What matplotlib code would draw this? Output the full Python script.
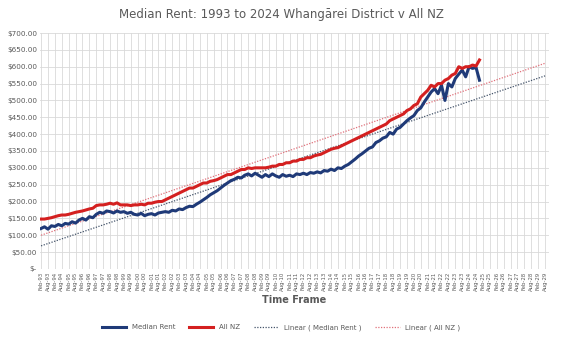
import numpy as np
import matplotlib.pyplot as plt

# quarterly readings (Feb, May, Aug, Nov) from Feb-93
whangarei = [
    120, 125, 118, 128,  126, 132, 128, 135,  133, 140, 136, 145,
    150, 145, 155, 152,  162, 168, 165, 172,  170, 166, 172, 168,
    170, 165, 168, 162,  160, 165, 158, 162,  164, 160, 166, 168,
    170, 168, 174, 172,  178, 176, 182, 186,  185, 192, 198, 205,
    212, 220, 226, 232,  240, 248, 255, 262,  266, 272, 270, 278,
    282, 276, 284, 278,  272, 280, 274, 282,  276, 272, 280, 275,
    278, 274, 282, 280,  284, 280, 286, 284,  288, 285, 292, 290,
    296, 292, 300, 298,  305, 310, 318, 326,  335, 342, 350, 358,
    362, 375, 380, 388,  392, 405, 400, 415,  420, 430, 440, 448,
    455, 470, 478, 495,  510, 525, 535, 520,  545, 500, 550, 540,
    565, 578, 590, 570,  600, 595, 598, 560,
]
all_nz = [
    148, 148, 150, 152,  155, 158, 160, 160,  162, 165, 168, 170,
    172, 175, 178, 180,  188, 190, 190, 192,  195, 192, 196, 190,
    190, 190, 188, 190,  190, 192, 190, 195,  195, 198, 200, 200,
    205, 210, 215, 220,  225, 230, 235, 240,  240, 245, 250, 255,
    255, 260, 262, 265,  270, 275, 280, 280,  285, 290, 295, 295,
    300, 298, 300, 300,  300, 300, 302, 305,  305, 310, 310, 315,
    315, 320, 320, 325,  325, 330, 330, 335,  338, 340, 345, 350,
    355, 358, 360, 365,  370, 375, 380, 385,  390, 395, 400, 405,
    410, 415, 420, 425,  430, 440, 445, 450,  455, 460, 470, 475,
    485, 490, 510, 520,  530, 545, 540, 550,  550, 560, 565, 575,
    580, 600, 595, 600,  600, 605, 602, 620,
]

tick_labels = []
for yr in range(1993, 2030):
    tick_labels.append("Feb-%02d" % (yr % 100))
    tick_labels.append("Aug-%02d" % (yr % 100))

months = np.arange(len(whangarei)) * 3
tick_pos = np.arange(len(tick_labels)) * 6
trend_x = np.array([0, tick_pos[-1]])

navy = "#1F3A78"
red = "#D42020"
grey = "#595959"

fig = plt.figure(figsize=(5.62, 3.37), dpi=100)
ax = fig.add_axes([0.071, 0.202, 0.905, 0.7])

ax.plot(months, whangarei, color=navy, lw=2.2, label="Median Rent", zorder=3)
ax.plot(months, all_nz, color=red, lw=2.2, label="All NZ", zorder=3)

# linear trendlines, extended forward like Excel's forecast
m1, b1 = np.polyfit(months, whangarei, 1)
m2, b2 = np.polyfit(months, all_nz, 1)
ax.plot(trend_x, m1 * trend_x + b1, color="#44546A", lw=0.9, ls=(0, (1, 1.2)),
        label="Linear ( Median Rent )", zorder=2)
ax.plot(trend_x, m2 * trend_x + b2, color="#E0707A", lw=0.9, ls=(0, (1, 1.2)),
        label="Linear ( All NZ )", zorder=2)

ax.set_xlim(-1, tick_pos[-1] + 3)
ax.set_ylim(0, 700)
ax.set_xticks(tick_pos)
ax.set_xticklabels(tick_labels, rotation=90, fontsize=3.9, color=grey)
yt = np.arange(0, 701, 50)
ax.set_yticks(yt)
ax.set_yticklabels(["$-"] + ["$%d.00" % v for v in yt[1:]], fontsize=5.2, color=grey)
ax.tick_params(length=0, pad=2)
ax.grid(True, color="#D9D9D9", lw=0.6)
ax.set_axisbelow(True)
for s in ax.spines.values():
    s.set_visible(False)

ax.set_xlabel("Time Frame", fontsize=7, fontweight="bold", color=grey, labelpad=3)
fig.suptitle("Median Rent: 1993 to 2024 Whangārei District v All NZ",
             fontsize=8.5, color=grey, y=0.975)
fig.legend(loc="lower center", bbox_to_anchor=(0.5, 0.0), ncol=4, frameon=False,
           fontsize=5, labelcolor=grey, handlelength=3.5, columnspacing=2)

fig.savefig("out.png", dpi=100)
